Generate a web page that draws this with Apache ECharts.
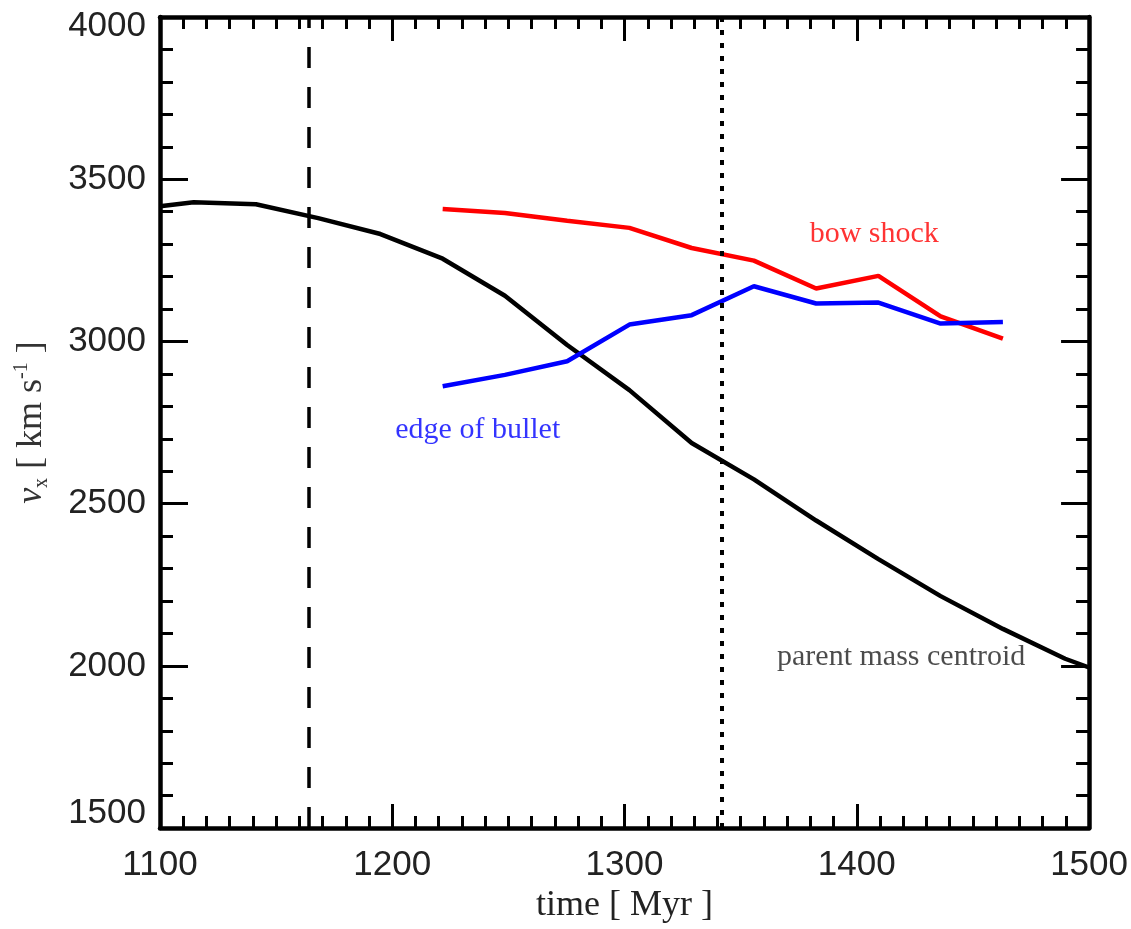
<!DOCTYPE html>
<html>
<head>
<meta charset="utf-8">
<script src="https://cdn.jsdelivr.net/npm/echarts@6/dist/echarts.min.js"></script>
<style>
  html, body { margin: 0; padding: 0; background: #fff; }
  #chart { width: 1131px; height: 929px; }
</style>
</head>
<body>
<div id="chart"></div>
<script>
// ---- data ----
const blackTime = [1100, 1114.5, 1141.3, 1168.1, 1194.9, 1221.7, 1248.5, 1275.3, 1302.1, 1328.9, 1355.7, 1382.5, 1409.3, 1436.1, 1462.9, 1489.7, 1500];
const blackVx   = [3417, 3429, 3423, 3380, 3331, 3255, 3141, 2989, 2850, 2687, 2575, 2448, 2329, 2215, 2114, 2022, 1995];
const shockTime = [1221.7, 1248.5, 1275.3, 1302.1, 1328.9, 1355.7, 1382.5, 1409.3, 1436.1, 1462.9];
const bowShockVx = [3408, 3396, 3372, 3350, 3288, 3249, 3163, 3202, 3077, 3009];
const bulletEdgeVx = [2862, 2897, 2939, 3052, 3081, 3170, 3117, 3120, 3055, 3060];
const dashedLineTime = 1164;
const dottedLineTime = 1342;
const annotationText = ['bow shock', 'edge of bullet', 'parent mass centroid'];
const annotationTime = [1407.5, 1236.8, 1419.1];
const annotationVx   = [3331, 2727, 2028];
const annotationColor = ['#ff0000', '#0000ff', '#1e1e1e'];
const xTicks = { min: 1100, max: 1500, step: 100 };
const yTicks = { min: 1500, max: 4000, step: 500 };

const zip = (a, b) => a.map((v, i) => [v, b[i]]);

const axisColor = '#000';
const labelFont = { fontFamily: 'Liberation Sans', fontSize: 35, color: '#222' };

function xAxisDef(pos, main) {
  return {
    type: 'value', position: pos, min: xTicks.min, max: xTicks.max, interval: xTicks.step,
    axisLine: { show: true, onZero: false, lineStyle: { color: axisColor, width: 4.5 } },
    axisTick: { show: true, inside: true, length: 24, lineStyle: { color: axisColor, width: 3 } },
    minorTick: { show: true, splitNumber: 10, length: 12, lineStyle: { color: axisColor, width: 3 } },
    splitLine: { show: false },
    axisLabel: main ? Object.assign({ show: true, margin: 20, formatter: v => String(v) }, labelFont) : { show: false },
    name: main ? 'time [ Myr ]' : '',
    nameLocation: 'middle', nameGap: 58,
    nameTextStyle: { fontFamily: 'Liberation Serif', fontSize: 36, color: '#222' }
  };
}
function yAxisDef(pos, main) {
  return {
    type: 'value', position: pos, min: yTicks.min, max: yTicks.max, interval: yTicks.step,
    axisLine: { show: true, onZero: false, lineStyle: { color: axisColor, width: 4.5 } },
    axisTick: { show: true, inside: true, length: 28, lineStyle: { color: axisColor, width: 3 } },
    minorTick: { show: true, splitNumber: 5, length: 13, lineStyle: { color: axisColor, width: 3 } },
    splitLine: { show: false },
    axisLabel: main ? Object.assign({
      show: true, margin: 14,
      formatter: function (v) {
        if (v === yTicks.max) return '{hi|' + v + '}';
        if (v === yTicks.min) return '{lo|' + v + '}';
        return String(v);
      },
      rich: {
        hi: { fontFamily: 'Liberation Sans', fontSize: 35, color: '#222', padding: [18, 0, 0, 0] },
        lo: { fontFamily: 'Liberation Sans', fontSize: 35, color: '#222', padding: [0, 0, 30, 0] }
      }
    }, labelFont) : { show: false },
    name: main ? '{i|v}{s|x}{n| [ km s}{p|-1}{n| ]}' : '',
    nameLocation: 'middle', nameGap: 108, nameRotate: 90,
    nameTextStyle: {
      color: '#333',
      rich: {
        i: { fontFamily: 'Liberation Serif', fontStyle: 'italic', fontSize: 36, lineHeight: 40, color: '#333' },
        n: { fontFamily: 'Liberation Serif', fontSize: 36, lineHeight: 40, color: '#333' },
        s: { fontFamily: 'Liberation Serif', fontSize: 20, lineHeight: 20, verticalAlign: 'bottom', color: '#333' },
        p: { fontFamily: 'Liberation Serif', fontSize: 20, lineHeight: 20, verticalAlign: 'top', color: '#333' }
      }
    }
  };
}

const annotationSeries = annotationText.map((t, i) => ({
  type: 'scatter', silent: true, xAxisIndex: 0, yAxisIndex: 0,
  symbolSize: 1, itemStyle: { color: 'rgba(0,0,0,0)' },
  data: [[annotationTime[i], annotationVx[i]]],
  label: {
    show: true, position: 'inside', formatter: t,
    fontFamily: 'Liberation Serif', fontSize: 30, color: annotationColor[i]
  },
  z: 5
}));

const option = {
  animation: false,
  backgroundColor: '#fff',
  grid: { left: 160, right: 41, top: 17, bottom: 97, containLabel: false },
  xAxis: [xAxisDef('bottom', true), xAxisDef('top', false)],
  yAxis: [yAxisDef('left', true), yAxisDef('right', false)],
  series: [
    {
      name: 'parent mass centroid', type: 'line', xAxisIndex: 0, yAxisIndex: 0,
      data: zip(blackTime, blackVx), showSymbol: false, symbol: 'none',
      lineStyle: { color: '#000', width: 4.5 }, clip: true,
      markLine: {
        silent: true, symbol: ['none', 'none'], label: { show: false },
        data: [
          { xAxis: dashedLineTime, lineStyle: { color: '#000', width: 3.5, type: [21, 19] } },
          { xAxis: dottedLineTime, lineStyle: { color: '#000', width: 4, type: [5, 8] } }
        ]
      }
    },
    {
      name: 'bow shock', type: 'line', xAxisIndex: 0, yAxisIndex: 0,
      data: zip(shockTime, bowShockVx), showSymbol: false, symbol: 'none',
      lineStyle: { color: '#ff0000', width: 4.5 }
    },
    {
      name: 'edge of bullet', type: 'line', xAxisIndex: 0, yAxisIndex: 0,
      data: zip(shockTime, bulletEdgeVx), showSymbol: false, symbol: 'none',
      lineStyle: { color: '#0000ff', width: 4.5 }
    }
  ].concat(annotationSeries)
};

const chart = echarts.init(document.getElementById('chart'), null, { renderer: 'canvas' });
chart.setOption(option);
</script>
</body>
</html>
